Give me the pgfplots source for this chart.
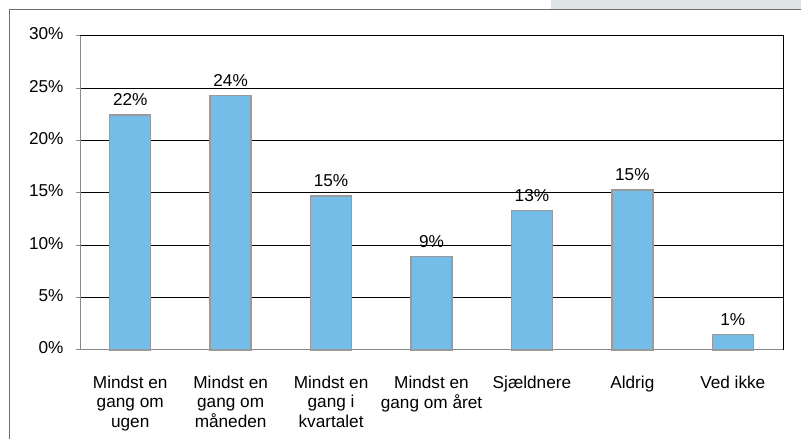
\documentclass[border=0pt]{standalone}
\usepackage{fontspec}
\setmainfont{Liberation Sans}
\usepackage{pgfplots}
\pgfplotsset{compat=1.18}
\definecolor{barblue}{HTML}{75BDE9}
\definecolor{baredge}{HTML}{9A9A9A}
\definecolor{boxgray}{HTML}{DFE4E7}
\definecolor{framegray}{HTML}{6E6E6E}
\definecolor{axgray}{HTML}{888888}
\begin{document}
\begin{tikzpicture}[x=1bp,y=1bp]
\path[use as bounding box] (0,0) rectangle (801,439);
\fill[boxgray] (551,430) rectangle (801,439);
\draw[framegray,line width=1.6bp] (9.3,0) -- (9.3,429.5) -- (801,429.5);
\begin{axis}[
  at={(80bp,89bp)}, anchor=south west,
  scale only axis, width=703bp, height=314bp,
  xmin=-0.5, xmax=6.5, ymin=0, ymax=30,
  axis x line*=bottom, axis y line*=left,
  axis line style={axgray, line width=1bp},
  ytick={0,5,...,30},
  yticklabels={0\%,5\%,10\%,15\%,20\%,25\%,30\%},
  xtick={0,...,6},
  xticklabels={{Mindst en\\gang om\\ugen},{Mindst en\\gang om\\måneden},{Mindst en\\gang i\\kvartalet},{Mindst en\\gang om året},{Sjældnere},{Aldrig},{Ved ikke}},
  extra x ticks={-0.5,0.5,1.5,2.5,3.5,4.5,5.5},
  extra x tick labels={},
  extra x tick style={major tick length=4bp, tick style={axgray, line width=1bp}},
  x tick style={draw=none},
  y tick style={axgray, line width=1bp},
  major tick length=4bp,
  tick align=outside,
  ymajorgrids, grid style={black, line width=1bp},
  typeset ticklabels with strut,
  xticklabel style={align=center, font=\fontsize{17.2bp}{19.5bp}\selectfont, yshift=-17bp, text depth=0pt},
  yticklabel style={font=\fontsize{17.2bp}{19.5bp}\selectfont, xshift=-9bp},
  /pgf/number format/assume math mode=true,
  clip=false,
]
\addplot[ybar, bar width=41bp, fill=barblue, draw=baredge, line width=1.3bp,
  nodes near coords, point meta=explicit symbolic,
  every node near coord/.append style={font=\fontsize{17.2bp}{19.5bp}\selectfont, black, yshift=5bp}]
  coordinates {(0,22.45)[22\%] (1,24.3)[24\%] (2,14.7)[15\%] (3,8.9)[9\%] (4,13.3)[13\%] (5,15.3)[15\%] (6,1.5)[1\%]};
\draw[black, line width=1bp] (axis cs:-0.5,30) -- (axis cs:6.5,30) -- (axis cs:6.5,0);
\end{axis}
\end{tikzpicture}
\end{document}
